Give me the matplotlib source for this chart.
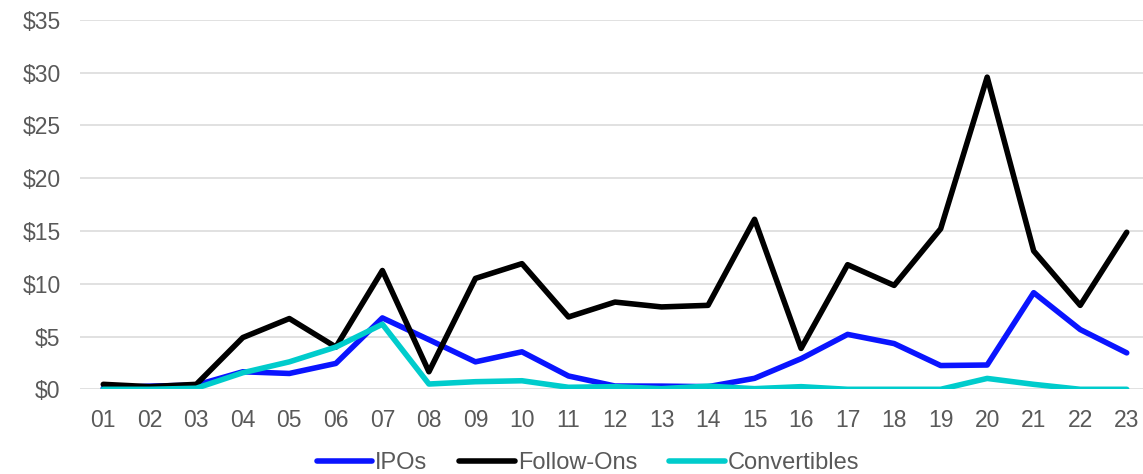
import matplotlib
matplotlib.use("Agg")
import matplotlib.pyplot as plt

years = ["01", "02", "03", "04", "05", "06", "07", "08", "09", "10", "11", "12",
         "13", "14", "15", "16", "17", "18", "19", "20", "21", "22", "23"]
ipos = [0.1, 0.3, 0.4, 1.66, 1.5, 2.45, 6.76, 4.7, 2.6, 3.55, 1.26, 0.31,
        0.3, 0.25, 1.04, 2.9, 5.2, 4.33, 2.25, 2.3, 9.15, 5.66, 3.45]
follow_ons = [0.47, 0.25, 0.47, 4.9, 6.7, 4.0, 11.25, 1.66, 10.5, 11.9, 6.85, 8.26,
              7.8, 7.95, 16.1, 3.87, 11.8, 9.84, 15.2, 29.56, 13.1, 7.95, 14.87]
convertibles = [0.0, 0.0, 0.1, 1.57, 2.6, 4.0, 6.16, 0.5, 0.72, 0.81, 0.19, 0.25,
                0.06, 0.3, 0.06, 0.25, 0.0, 0.0, 0.0, 1.03, 0.47, 0.0, 0.0]
y_ticks = [0, 5, 10, 15, 20, 25, 30, 35]

plt.rcParams["font.family"] = ["Liberation Sans", "DejaVu Sans"]
text_color = "#595959"
fs = 16.5

fig = plt.figure(figsize=(11.43, 4.74), dpi=100)
ax = fig.add_axes([80 / 1143, 84.7 / 474, 1070 / 1143, (454.3 - 84.7) / 474])

x = list(range(1, len(years) + 1))
lw = 4.0
ax.plot(x, ipos, color="#0A14FF", lw=lw, label="IPOs", solid_joinstyle="round",
        solid_capstyle="round", zorder=3)
ax.plot(x, follow_ons, color="#000000", lw=lw, label="Follow-Ons", solid_joinstyle="round",
        solid_capstyle="round", zorder=4)
ax.plot(x, convertibles, color="#00CCCC", lw=lw, label="Convertibles", solid_joinstyle="round",
        solid_capstyle="round", zorder=5)

ax.set_xlim(0.5, len(years) + 0.5)
ax.set_ylim(0, 35)
ax.set_xticks(x)
ax.set_xticklabels(years)
ax.set_yticks(y_ticks)
ax.set_yticklabels([f"${v}" for v in y_ticks])

ax.grid(axis="y", color="#D9D9D9", lw=1.1, zorder=0)
ax.set_axisbelow(True)
for s in ax.spines.values():
    s.set_visible(False)
ax.tick_params(axis="both", length=0, labelsize=fs, colors=text_color)
ax.tick_params(axis="x", pad=14)
ax.tick_params(axis="y", pad=14)

leg = fig.legend(loc="center", bbox_to_anchor=(588 / 1143, 11 / 474), ncol=3,
                 frameon=False, fontsize=17, handlelength=2.35, handletextpad=0.13,
                 columnspacing=1.35, borderpad=0.0)
for t in leg.get_texts():
    t.set_color(text_color)

fig.savefig("out.png", dpi=100)
